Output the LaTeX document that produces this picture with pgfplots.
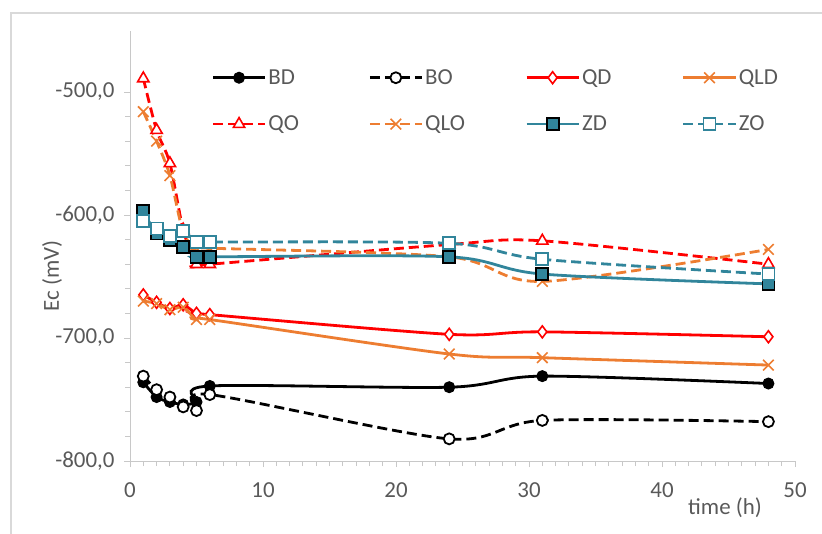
\documentclass[border=0pt]{standalone}
\usepackage{pgfplots}
\pgfplotsset{compat=1.18}
\usepackage{fontspec}
\setmainfont{Carlito}
\definecolor{txt}{RGB}{89,89,89}
\definecolor{axg}{RGB}{200,200,200}
\definecolor{frameg}{RGB}{217,217,217}
\definecolor{myred}{RGB}{255,0,0}
\definecolor{myorange}{RGB}{237,125,49}
\definecolor{myteal}{RGB}{49,133,155}
\begin{document}
\begin{tikzpicture}[x=1bp,y=1bp]
\useasboundingbox (0,0) rectangle (822,-534);
\draw[color=frameg, line width=1.5bp] (11,-534) -- (11,-13) -- (822,-13);
\begin{axis}[
  at={(130bp,-461bp)}, anchor=south west,
  scale only axis, width=665bp, height=430.5bp,
  xmin=0, xmax=50, ymin=-800, ymax=-450,
  axis lines=left,
  axis line style={axg, line width=1bp, -},
  xtick={0,10,...,50}, ytick={-800,-700,-600,-500},
  minor x tick num=9, minor y tick num=4,
  tick style={axg, line width=1bp},
  tick align=outside,
  major tick length=6bp, minor tick length=5bp,
  /pgf/number format/assume math mode=true,
  ticklabel style={font=\fontsize{23}{27}\selectfont, text=txt},
  yticklabel style={xshift=-6bp, /pgf/number format/fixed, /pgf/number format/fixed zerofill, /pgf/number format/precision=1, /pgf/number format/use comma, /pgf/number format/1000 sep={}},
  xticklabel style={yshift=-12bp},
  ylabel={Ec (mV)},
  xlabel={time (h)},
  every axis y label/.style={at={(axis description cs:-0.1173,0.4297)}, rotate=90, anchor=center, font=\fontsize{23}{27}\selectfont, text=txt},
  every axis x label/.style={at={(axis description cs:0.8947,-0.1092)}, anchor=center, font=\fontsize{23}{27}\selectfont, text=txt},
  legend columns=4,
  legend cell align=left,
  legend style={draw=none, fill=none, at={(axis description cs:0.118,0.919)}, anchor=north west,
    font=\fontsize{23}{27}\selectfont, text=txt, row sep=26bp,
    /tikz/every even column/.append style={column sep=0bp}},
  legend image code/.code={\draw[mark repeat=2,mark phase=2,#1] plot coordinates {(0bp,0bp) (26bp,0bp) (52bp,0bp)};},
  every axis plot/.append style={smooth, line width=2.8bp},
]
% BD
\addplot[black, mark=*, mark size=5.5bp, mark options={solid, fill=black, line width=1bp}]
 coordinates {(1,-736) (2,-748) (3,-752) (4,-754) (5,-752) (6,-739) (24,-740) (31,-731) (48,-737)};
\addlegendentry{\makebox[98bp][l]{BD}}
% BO
\addplot[black, dash pattern=on 10bp off 5bp, mark=*, mark size=5.5bp, mark options={solid, fill=white, draw=black, line width=1.8bp}]
 coordinates {(1,-731) (2,-742) (3,-748) (4,-756) (5,-759) (6,-746) (24,-782) (31,-767) (48,-768)};
\addlegendentry{\makebox[98bp][l]{BO}}
% QD
\addplot[myred, mark=diamond*, mark size=6bp, mark options={solid, fill=white, draw=myred, line width=1.6bp}]
 coordinates {(1,-665) (2,-671) (3,-676) (4,-673) (5,-680) (6,-681) (24,-697) (31,-695) (48,-699)};
\addlegendentry{\makebox[98bp][l]{QD}}
% QLD
\addplot[myorange, mark=x, mark size=7.5bp, mark options={solid, line width=1.6bp}]
 coordinates {(1,-670) (2,-672) (3,-677) (4,-675) (5,-685) (6,-685) (24,-713) (31,-716) (48,-722)};
\addlegendentry{\makebox[98bp][l]{QLD}}
% QO
\addplot[myred, dash pattern=on 10bp off 5bp, mark=triangle*, mark size=6.5bp, mark options={solid, fill=white, draw=myred, line width=1.6bp}]
 coordinates {(1,-489) (2,-531) (3,-558) (4,-612) (5,-640) (6,-640) (24,-624) (31,-621) (48,-640)};
\addlegendentry{\makebox[98bp][l]{QO}}
% QLO
\addplot[myorange, dash pattern=on 10bp off 5bp, mark=x, mark size=7.5bp, mark options={solid, line width=1.6bp}]
 coordinates {(1,-516) (2,-540) (3,-568) (4,-614) (5,-627) (6,-627) (24,-634) (31,-654) (48,-628)};
\addlegendentry{\makebox[98bp][l]{QLO}}
% ZD
\addplot[myteal, mark=square*, mark size=6bp, mark options={solid, fill=myteal, draw=black, line width=1.8bp}]
 coordinates {(1,-597) (2,-615) (3,-620) (4,-626) (5,-634) (6,-634) (24,-634) (31,-648) (48,-656)};
\addlegendentry{\makebox[98bp][l]{ZD}}
% ZO
\addplot[myteal, dash pattern=on 10bp off 5bp, mark=square*, mark size=6bp, mark options={solid, fill=white, draw=myteal, line width=1.8bp}]
 coordinates {(1,-605) (2,-611) (3,-617) (4,-613) (5,-622) (6,-622) (24,-623) (31,-636) (48,-648)};
\addlegendentry{\makebox[98bp][l]{ZO}}
\end{axis}
\end{tikzpicture}
\end{document}
